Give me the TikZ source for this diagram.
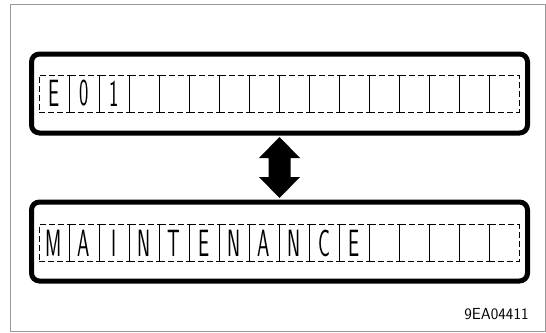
\documentclass[tikz,border=0pt]{standalone}
\usepackage{graphicx}
\usetikzlibrary{calc}
\newcommand{\lcdchar}[1]{\scalebox{0.52}[1]{\fontsize{38}{38}\selectfont\sffamily #1}}
\begin{document}
\begin{tikzpicture}[x=1pt,y=-1pt,inner sep=0pt,outer sep=0pt,
display/.style={draw,rectangle,line width=5pt,rounded corners=8pt,minimum width=496pt,minimum height=79pt},
cell/.style={draw,rectangle,line width=0.8pt,dash pattern=on 6pt off 3pt,minimum width=30pt,minimum height=37pt}]
\useasboundingbox (0,0) rectangle (546,332);
\draw[gray!80,line width=1pt] (10,4) rectangle (545,331);
% displays
\draw (279.5,93.5) node[display] (disptop) {};
\draw (279.5,241.5) node[display] (dispbot) {};
% character cells
\foreach \c [count=\i from 0] in {E,0,1,,,,,,,,,,,,,}
  \draw (54+30*\i,93.5) node[cell] (top\i) {\lcdchar{\c}};
\foreach \c [count=\i from 0] in {M,A,I,N,T,E,N,A,N,C,E,,,,,}
  \draw (54+30*\i,243) node[cell] (bot\i) {\lcdchar{\c}};
% double arrow
\coordinate (arr) at ($(disptop.south)!0.5!(dispbot.north)$);
\fill ($(arr)+(0,-30.5)$) -- ++(20.5,21) -- ++(-9.5,0) -- ++(0,19) -- ++(9.5,0)
  -- ++(-20.5,21) -- ++(-20.5,-21) -- ++(9.5,0) -- ++(0,-19) -- ++(-9.5,0) -- cycle;
\draw (496.5,314) node[font=\fontsize{16}{16}\selectfont\sffamily] (code) {9EA04411};
\end{tikzpicture}
\end{document}
